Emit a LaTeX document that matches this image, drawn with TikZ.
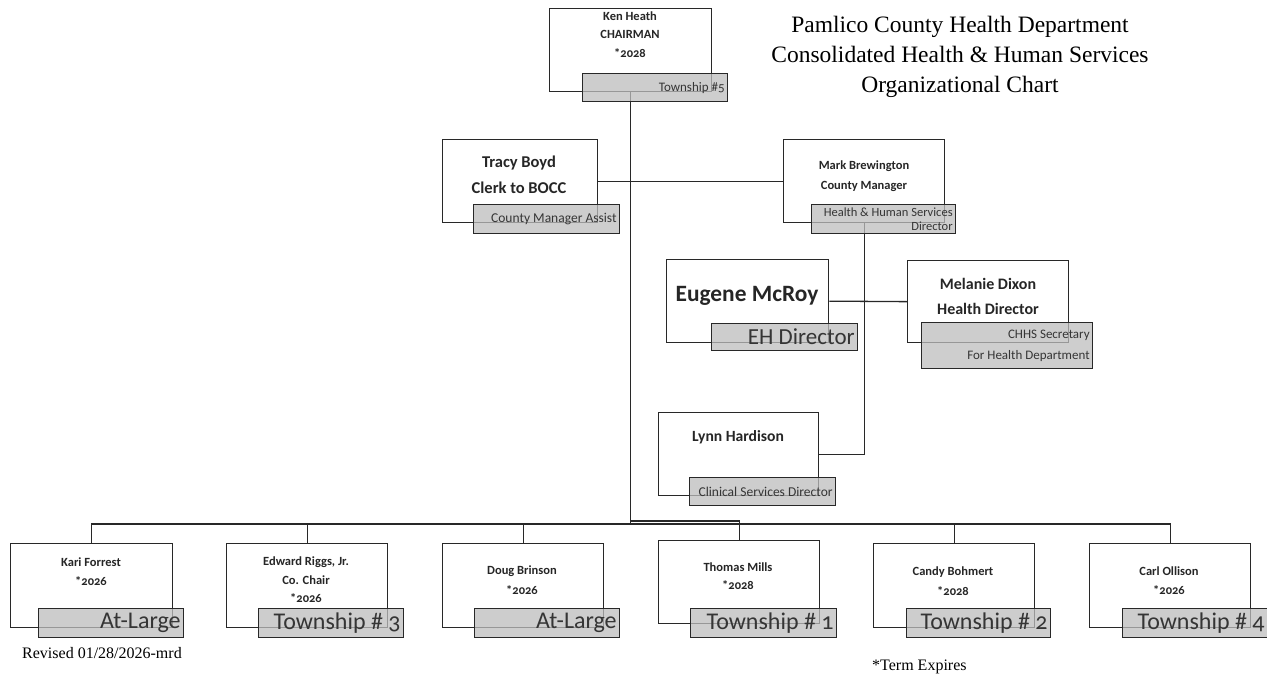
\documentclass[tikz,border=0pt]{standalone}
\usepackage{fontspec}
\setmainfont{Liberation Serif}
\newfontfamily\cand[Numbers=OldStyle]{Carlito}
\usetikzlibrary{calc}
\definecolor{lineC}{HTML}{282828}
\definecolor{grayF}{HTML}{BDBDBD}
\definecolor{grayT}{HTML}{353535}
\tikzset{
  wbox/.style={draw=lineC, line width=1.3pt, fill=white, inner sep=0pt, anchor=north west},
  gbox/.style={draw=lineC, line width=1.3pt, fill=grayF, fill opacity=0.75, text opacity=1,
     inner xsep=3pt, inner ysep=0pt, anchor=north west, align=flush right, text=grayT, font=\cand},
  nm/.style={font=\cand\bfseries, text=black!85, inner sep=0pt},
  conn/.style={draw=lineC, line width=1.3pt},
  ttl/.style={font=\fontsize{23.5}{30}\selectfont, align=center, inner sep=0pt}
}
\begin{document}
\begin{tikzpicture}[x=1pt,y=-1pt]
\useasboundingbox (0,0) rectangle (1267,677);
% white boxes
\node[wbox, minimum width=162, minimum height=83] (ken) at (549,8) {};
\node[wbox, minimum width=155, minimum height=83] (tracy) at (442,139) {};
\node[wbox, minimum width=161, minimum height=83] (mark) at (783,139) {};
\node[wbox, minimum width=162, minimum height=83] (eugene) at (666,259) {};
\node[wbox, minimum width=161, minimum height=82] (melanie) at (907,260) {};
\node[wbox, minimum width=160, minimum height=83] (lynn) at (658,412) {};
\node[wbox, minimum width=162, minimum height=84] (kari) at (10,543) {};
\node[wbox, minimum width=161, minimum height=84] (edward) at (226,543) {};
\node[wbox, minimum width=161, minimum height=84] (doug) at (442,543) {};
\node[wbox, minimum width=161, minimum height=83] (thomas) at (658,540) {};
\node[wbox, minimum width=161, minimum height=84] (candy) at (873,543) {};
\node[wbox, minimum width=161, minimum height=84] (carl) at (1089,543) {};
% connectors
\coordinate (bus) at (0,524);
\coordinate (tbus) at (0,521);
\draw[conn] (ken.south) -- (ken.south |- bus);
\draw[conn] (kari.north) -- (kari.north |- bus) -- (carl.north |- bus) -- (carl.north);
\draw[conn] (edward.north) -- (edward.north |- bus);
\draw[conn] (doug.north) -- (doug.north |- bus);
\draw[conn] (candy.north) -- (candy.north |- bus);
\draw[conn] (ken.south |- tbus) -- (thomas.north |- tbus) -- (thomas.north);
\draw[conn] (tracy.east) -- (mark.west);
\draw[conn] (mark.south) |- (lynn.east);
\draw[conn] (eugene.east) -- (melanie.west);
% gray boxes
\node[gbox, text width=139, minimum height=28, font=\cand\fontsize{13}{15}\selectfont] (kenG) at (582,73) {Township \#5};
\node[gbox, text width=140, minimum height=29, font=\cand\fontsize{13.5}{15}\selectfont] (tracyG) at (473,204) {County Manager Assist};
\node[gbox, text width=138, minimum height=29, font=\cand\fontsize{12.5}{14}\selectfont] (markG) at (811,204) {Health \& Human Services\\Director};
\node[gbox, text width=140, minimum height=27, font=\cand\fontsize{23}{25}\selectfont] (eugeneG) at (711,323) {EH Director};
\node[gbox, text width=165, minimum height=46, font=\cand\fontsize{13}{21}\selectfont] (melanieG) at (921,322) {CHHS Secretary\\For Health Department};
\node[gbox, text width=140, minimum height=28, font=\cand\fontsize{13.5}{15}\selectfont] (lynnG) at (689,477) {Clinical Services Director};
\node[gbox, text width=139, minimum height=29, font=\cand\fontsize{24}{26}\selectfont] (kariG) at (38,608) {At-Large};
\node[gbox, text width=139, minimum height=29, font=\cand\fontsize{24}{26}\selectfont] (edwardG) at (258,608) {Township \# 3};
\node[gbox, text width=139, minimum height=29, font=\cand\fontsize{24}{26}\selectfont] (dougG) at (474,608) {At-Large};
\node[gbox, text width=140, minimum height=29, font=\cand\fontsize{24}{26}\selectfont] (thomasG) at (690,608) {Township \# 1};
\node[gbox, text width=138, minimum height=29, font=\cand\fontsize{24}{26}\selectfont] (candyG) at (906,608) {Township \# 2};
\node[gbox, text width=139, minimum height=29, font=\cand\fontsize{24}{26}\selectfont] (carlG) at (1122,608) {Township \# 4};
% names
\node[nm, font=\cand\bfseries\fontsize{12.5}{14}\selectfont] (kenT1) at (630,16) {Ken Heath};
\node[nm, font=\cand\bfseries\fontsize{12.5}{14}\selectfont] (kenT2) at (630,34) {CHAIRMAN};
\node[nm, font=\cand\bfseries\fontsize{12.5}{14}\selectfont] (kenT3) at (630,53) {*2028};
\node[nm, font=\cand\bfseries\fontsize{16.5}{18}\selectfont] (tracyT1) at (519,163) {Tracy Boyd};
\node[nm, font=\cand\bfseries\fontsize{16.5}{18}\selectfont] (tracyT2) at (519,188) {Clerk to BOCC};
\node[nm, font=\cand\bfseries\fontsize{12.5}{14}\selectfont] (markT1) at (864,166) {Mark Brewington};
\node[nm, font=\cand\bfseries\fontsize{12.5}{14}\selectfont] (markT2) at (864,186) {County Manager};
\node[nm, font=\cand\bfseries\fontsize{23.4}{26}\selectfont] (eugeneT) at (747,296) {Eugene McRoy};
\node[nm, font=\cand\bfseries\fontsize{16}{18}\selectfont] (melanieT1) at (988,284) {Melanie Dixon};
\node[nm, font=\cand\bfseries\fontsize{16}{18}\selectfont] (melanieT2) at (988,309) {Health Director};
\node[nm, font=\cand\bfseries\fontsize{15.6}{18}\selectfont] (lynnT) at (738,437) {Lynn Hardison};
\node[nm, font=\cand\bfseries\fontsize{12.5}{14}\selectfont] (kariT1) at (91,562) {Kari Forrest};
\node[nm, font=\cand\bfseries\fontsize{12.5}{14}\selectfont] (kariT2) at (91,581) {*2026};
\node[nm, font=\cand\bfseries\fontsize{12.5}{14}\selectfont] (edwardT1) at (306,562) {Edward Riggs, Jr.};
\node[nm, font=\cand\bfseries\fontsize{12.5}{14}\selectfont] (edwardT2) at (306,580) {Co. Chair};
\node[nm, font=\cand\bfseries\fontsize{12.5}{14}\selectfont] (edwardT3) at (306,598) {*2026};
\node[nm, font=\cand\bfseries\fontsize{12.5}{14}\selectfont] (dougT1) at (522,571) {Doug Brinson};
\node[nm, font=\cand\bfseries\fontsize{12.5}{14}\selectfont] (dougT2) at (522,590) {*2026};
\node[nm, font=\cand\bfseries\fontsize{12.5}{14}\selectfont] (thomasT1) at (738,567) {Thomas Mills};
\node[nm, font=\cand\bfseries\fontsize{12.5}{14}\selectfont] (thomasT2) at (738,585) {*2028};
\node[nm, font=\cand\bfseries\fontsize{12.5}{14}\selectfont] (candyT1) at (953,572) {Candy Bohmert};
\node[nm, font=\cand\bfseries\fontsize{12.5}{14}\selectfont] (candyT2) at (953,591) {*2028};
\node[nm, font=\cand\bfseries\fontsize{12.5}{14}\selectfont] (carlT1) at (1169,571) {Carl Ollison};
\node[nm, font=\cand\bfseries\fontsize{12.5}{14}\selectfont] (carlT2) at (1169,590) {*2026};
% title and notes
\node[ttl] (title) at (960,57) {Pamlico County Health Department\\Consolidated Health \& Human Services\\Organizational Chart};
\node[inner sep=0pt, anchor=west, font=\fontsize{16}{18}\selectfont] (revised) at (22,653) {Revised 01/28/2026-mrd};
\node[inner sep=0pt, anchor=west, font=\fontsize{16}{18}\selectfont] (term) at (872,667) {*Term Expires};
\end{tikzpicture}
\end{document}
